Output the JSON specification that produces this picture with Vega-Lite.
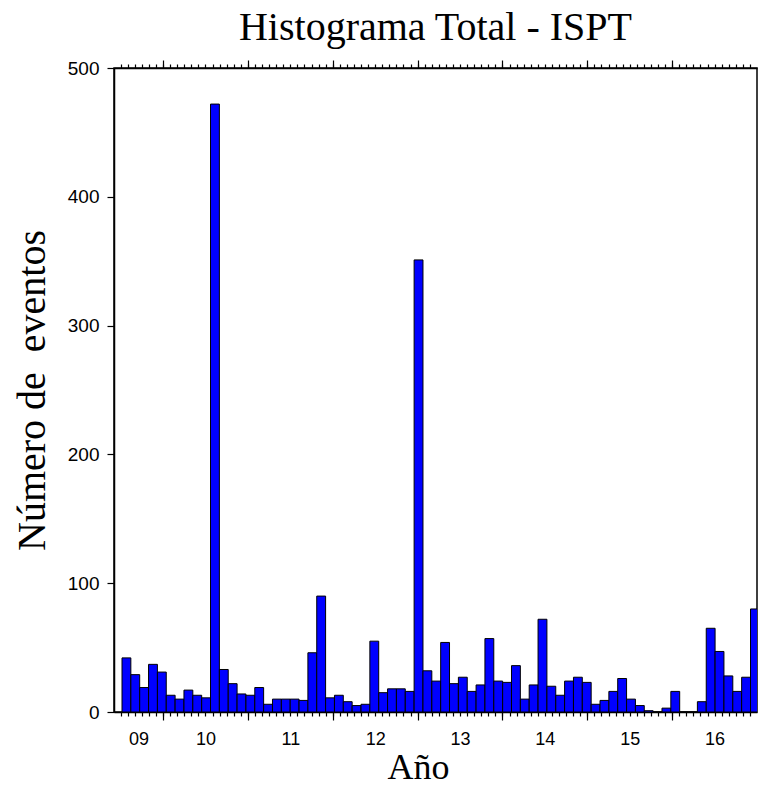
{
  "$schema": "https://vega.github.io/schema/vega-lite/v6.json",
  "autosize": {"type": "none"},
  "width": 643,
  "height": 644,
  "padding": {"left": 114, "top": 68, "right": 1, "bottom": 75},
  "background": "white",
  "title": {"text": "Histograma Total - ISPT", "font": "Liberation Serif", "fontSize": 40, "fontWeight": "normal", "color": "black", "anchor": "middle", "frame": "group", "baseline": "alphabetic", "offset": 26, "dy": 47},
  "config": {
    "view": {"stroke": "black", "strokeWidth": 1.5},
    "axis": {"domainColor": "black", "domainWidth": 1.5, "tickColor": "black", "tickWidth": 1.2, "labelColor": "black", "titleColor": "black", "labelFont": "Liberation Sans", "titleFont": "Liberation Serif", "titleFontWeight": "normal", "grid": false}
  },
  "data": {"values": [
    {"start": 2009.5167, "end": 2009.6210, "count": 42},
    {"start": 2009.6210, "end": 2009.7253, "count": 29},
    {"start": 2009.7253, "end": 2009.8297, "count": 19},
    {"start": 2009.8297, "end": 2009.9340, "count": 37},
    {"start": 2009.9340, "end": 2010.0383, "count": 31},
    {"start": 2010.0383, "end": 2010.1426, "count": 13},
    {"start": 2010.1426, "end": 2010.2469, "count": 10},
    {"start": 2010.2469, "end": 2010.3513, "count": 17},
    {"start": 2010.3513, "end": 2010.4556, "count": 13},
    {"start": 2010.4556, "end": 2010.5599, "count": 11},
    {"start": 2010.5599, "end": 2010.6642, "count": 472},
    {"start": 2010.6642, "end": 2010.7685, "count": 33},
    {"start": 2010.7685, "end": 2010.8729, "count": 22},
    {"start": 2010.8729, "end": 2010.9772, "count": 14},
    {"start": 2010.9772, "end": 2011.0815, "count": 13},
    {"start": 2011.0815, "end": 2011.1858, "count": 19},
    {"start": 2011.1858, "end": 2011.2901, "count": 6},
    {"start": 2011.2901, "end": 2011.3945, "count": 10},
    {"start": 2011.3945, "end": 2011.4988, "count": 10},
    {"start": 2011.4988, "end": 2011.6031, "count": 10},
    {"start": 2011.6031, "end": 2011.7074, "count": 9},
    {"start": 2011.7074, "end": 2011.8117, "count": 46},
    {"start": 2011.8117, "end": 2011.9161, "count": 90},
    {"start": 2011.9161, "end": 2012.0204, "count": 11},
    {"start": 2012.0204, "end": 2012.1247, "count": 13},
    {"start": 2012.1247, "end": 2012.2290, "count": 8},
    {"start": 2012.2290, "end": 2012.3333, "count": 5},
    {"start": 2012.3333, "end": 2012.4377, "count": 6},
    {"start": 2012.4377, "end": 2012.5420, "count": 55},
    {"start": 2012.5420, "end": 2012.6463, "count": 15},
    {"start": 2012.6463, "end": 2012.7506, "count": 18},
    {"start": 2012.7506, "end": 2012.8549, "count": 18},
    {"start": 2012.8549, "end": 2012.9593, "count": 16},
    {"start": 2012.9593, "end": 2013.0636, "count": 351},
    {"start": 2013.0636, "end": 2013.1679, "count": 32},
    {"start": 2013.1679, "end": 2013.2722, "count": 24},
    {"start": 2013.2722, "end": 2013.3765, "count": 54},
    {"start": 2013.3765, "end": 2013.4809, "count": 22},
    {"start": 2013.4809, "end": 2013.5852, "count": 27},
    {"start": 2013.5852, "end": 2013.6895, "count": 16},
    {"start": 2013.6895, "end": 2013.7938, "count": 21},
    {"start": 2013.7938, "end": 2013.8981, "count": 57},
    {"start": 2013.8981, "end": 2014.0025, "count": 24},
    {"start": 2014.0025, "end": 2014.1068, "count": 23},
    {"start": 2014.1068, "end": 2014.2111, "count": 36},
    {"start": 2014.2111, "end": 2014.3154, "count": 10},
    {"start": 2014.3154, "end": 2014.4197, "count": 21},
    {"start": 2014.4197, "end": 2014.5241, "count": 72},
    {"start": 2014.5241, "end": 2014.6284, "count": 20},
    {"start": 2014.6284, "end": 2014.7327, "count": 13},
    {"start": 2014.7327, "end": 2014.8370, "count": 24},
    {"start": 2014.8370, "end": 2014.9413, "count": 27},
    {"start": 2014.9413, "end": 2015.0457, "count": 23},
    {"start": 2015.0457, "end": 2015.1500, "count": 6},
    {"start": 2015.1500, "end": 2015.2543, "count": 9},
    {"start": 2015.2543, "end": 2015.3586, "count": 16},
    {"start": 2015.3586, "end": 2015.4629, "count": 26},
    {"start": 2015.4629, "end": 2015.5673, "count": 10},
    {"start": 2015.5673, "end": 2015.6716, "count": 5},
    {"start": 2015.6716, "end": 2015.7759, "count": 1},
    {"start": 2015.7759, "end": 2015.8802, "count": 0},
    {"start": 2015.8802, "end": 2015.9845, "count": 3},
    {"start": 2015.9845, "end": 2016.0889, "count": 16},
    {"start": 2016.0889, "end": 2016.1932, "count": 0},
    {"start": 2016.1932, "end": 2016.2975, "count": 0},
    {"start": 2016.2975, "end": 2016.4018, "count": 8},
    {"start": 2016.4018, "end": 2016.5061, "count": 65},
    {"start": 2016.5061, "end": 2016.6105, "count": 47},
    {"start": 2016.6105, "end": 2016.7148, "count": 28},
    {"start": 2016.7148, "end": 2016.8191, "count": 16},
    {"start": 2016.8191, "end": 2016.9234, "count": 27},
    {"start": 2016.9234, "end": 2017.0277, "count": 80}
  ]},
  "resolve": {"axis": {"x": "independent"}},
  "layer": [
    {
      "mark": {"type": "bar", "fill": "#0000ff", "stroke": "black", "strokeWidth": 1, "clip": true},
      "encoding": {
        "x": {"field": "start", "type": "quantitative",
          "scale": {"domain": [2009.4224, 2017], "nice": false, "zero": false},
          "axis": {"orient": "bottom", "title": null, "labels": false, "tickSize": 4,
            "values": [2009.5, 2009.5833, 2009.6667, 2009.75, 2009.8333, 2009.9167,
              2010, 2010.0833, 2010.1667, 2010.25, 2010.3333, 2010.4167, 2010.5, 2010.5833, 2010.6667, 2010.75, 2010.8333, 2010.9167,
              2011, 2011.0833, 2011.1667, 2011.25, 2011.3333, 2011.4167, 2011.5, 2011.5833, 2011.6667, 2011.75, 2011.8333, 2011.9167,
              2012, 2012.0833, 2012.1667, 2012.25, 2012.3333, 2012.4167, 2012.5, 2012.5833, 2012.6667, 2012.75, 2012.8333, 2012.9167,
              2013, 2013.0833, 2013.1667, 2013.25, 2013.3333, 2013.4167, 2013.5, 2013.5833, 2013.6667, 2013.75, 2013.8333, 2013.9167,
              2014, 2014.0833, 2014.1667, 2014.25, 2014.3333, 2014.4167, 2014.5, 2014.5833, 2014.6667, 2014.75, 2014.8333, 2014.9167,
              2015, 2015.0833, 2015.1667, 2015.25, 2015.3333, 2015.4167, 2015.5, 2015.5833, 2015.6667, 2015.75, 2015.8333, 2015.9167,
              2016, 2016.0833, 2016.1667, 2016.25, 2016.3333, 2016.4167, 2016.5, 2016.5833, 2016.6667, 2016.75, 2016.8333, 2016.9167]}},
        "x2": {"field": "end"},
        "y": {"field": "count", "type": "quantitative",
          "scale": {"domain": [0, 500], "nice": false},
          "axis": {"orient": "left", "values": [0, 100, 200, 300, 400, 500], "tickSize": 7, "labelPadding": 8, "labelFontSize": 19,
            "title": "Número de\u00a0 eventos", "titleFontSize": 40, "titleX": -70, "titleY": 322, "titleAngle": 270, "titleBaseline": "alphabetic", "titleAlign": "center"}},
        "y2": {"datum": 0}
      }
    },
    {
      "mark": {"type": "rule", "opacity": 0},
      "encoding": {
        "x": {"field": "start", "type": "quantitative",
          "scale": {"domain": [2009.4224, 2017], "nice": false, "zero": false},
          "axis": {"orient": "bottom", "title": null, "labels": false, "domain": false, "tickSize": 8,
            "values": [2010, 2011, 2012, 2013, 2014, 2015, 2016]}}
      }
    },
    {
      "mark": {"type": "rule", "opacity": 0},
      "encoding": {
        "x": {"field": "start", "type": "quantitative",
          "scale": {"domain": [2009.4224, 2017], "nice": false, "zero": false},
          "axis": {"orient": "bottom", "domain": false, "ticks": false, "tickSize": 0, "labelPadding": 18, "labelFontSize": 18,
            "labelFlush": false, "labelOverlap": false,
            "values": [2009.7112, 2010.5, 2011.5, 2012.5, 2013.5, 2014.5, 2015.5, 2016.5],
            "labelExpr": "datum.value < 2010 ? '09' : substring(toString(floor(datum.value)), 2, 4)",
            "title": "Año", "titleFontSize": 36, "titleX": 304, "titleY": 66, "titleBaseline": "alphabetic", "titleAlign": "center"}}
      }
    },
    {
      "mark": {"type": "rule", "opacity": 0},
      "encoding": {
        "x": {"field": "start", "type": "quantitative",
          "scale": {"domain": [2009.4224, 2017], "nice": false, "zero": false},
          "axis": {"orient": "top", "title": null, "labels": false, "tickSize": 4,
            "values": [2009.5, 2009.5833, 2009.6667, 2009.75, 2009.8333, 2009.9167,
              2010, 2010.0833, 2010.1667, 2010.25, 2010.3333, 2010.4167, 2010.5, 2010.5833, 2010.6667, 2010.75, 2010.8333, 2010.9167,
              2011, 2011.0833, 2011.1667, 2011.25, 2011.3333, 2011.4167, 2011.5, 2011.5833, 2011.6667, 2011.75, 2011.8333, 2011.9167,
              2012, 2012.0833, 2012.1667, 2012.25, 2012.3333, 2012.4167, 2012.5, 2012.5833, 2012.6667, 2012.75, 2012.8333, 2012.9167,
              2013, 2013.0833, 2013.1667, 2013.25, 2013.3333, 2013.4167, 2013.5, 2013.5833, 2013.6667, 2013.75, 2013.8333, 2013.9167,
              2014, 2014.0833, 2014.1667, 2014.25, 2014.3333, 2014.4167, 2014.5, 2014.5833, 2014.6667, 2014.75, 2014.8333, 2014.9167,
              2015, 2015.0833, 2015.1667, 2015.25, 2015.3333, 2015.4167, 2015.5, 2015.5833, 2015.6667, 2015.75, 2015.8333, 2015.9167,
              2016, 2016.0833, 2016.1667, 2016.25, 2016.3333, 2016.4167, 2016.5, 2016.5833, 2016.6667, 2016.75, 2016.8333, 2016.9167]}}
      }
    },
    {
      "mark": {"type": "rule", "opacity": 0},
      "encoding": {
        "x": {"field": "start", "type": "quantitative",
          "scale": {"domain": [2009.4224, 2017], "nice": false, "zero": false},
          "axis": {"orient": "top", "title": null, "labels": false, "domain": false, "tickSize": 8,
            "values": [2010, 2011, 2012, 2013, 2014, 2015, 2016]}}
      }
    }
  ]
}
